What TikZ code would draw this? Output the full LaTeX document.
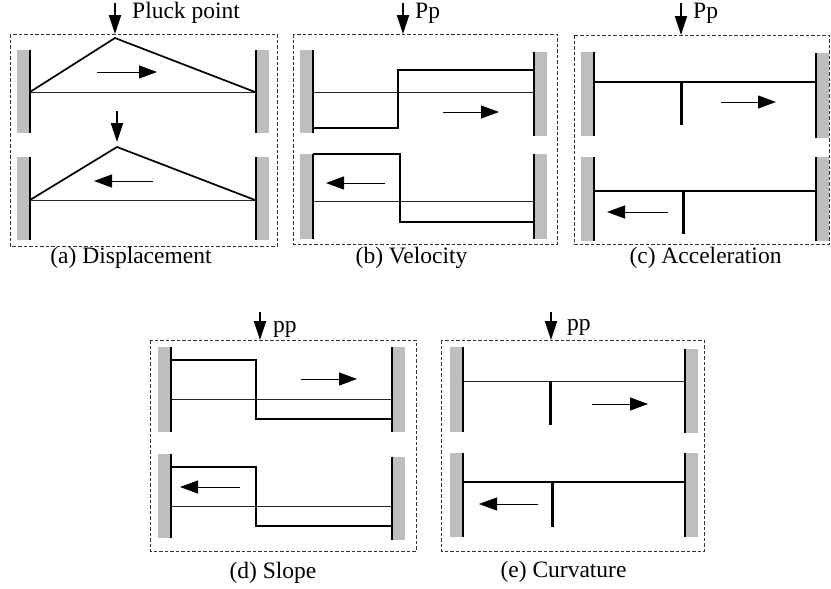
\documentclass[tikz,border=0pt]{standalone}
\usepackage{fontspec}
\setmainfont{Liberation Serif}
\usetikzlibrary{arrows.meta}
\definecolor{wallgray}{RGB}{190,190,190}
\tikzset{
 wallfill/.style={fill=wallgray,draw=none},
 wallline/.style={line width=1.6pt},
 thinstr/.style={line width=0.8pt,draw=black!85},
 thickstr/.style={line width=1.7pt},
 tickline/.style={line width=3pt},
 dirarrow/.style={line width=1pt,-{Triangle[length=18pt,width=13pt]}},
 pluckarrow/.style={line width=1.8pt,-{Triangle[length=19pt,width=12pt]}},
 framebox/.style={draw=black!80,dash pattern=on 3.5pt off 2pt,line width=0.8pt},
 lbl/.style={font=\fontsize{23.5}{28}\selectfont,inner sep=0pt},
}
\newcommand\lwall[3]{\fill[wallfill] (#1-13,#2) rectangle (#1,#3); \draw[wallline] (#1,#2) -- (#1,#3);}
\newcommand\rwall[3]{\fill[wallfill] (#1,#2) rectangle (#1+13,#3); \draw[wallline] (#1,#2) -- (#1,#3);}
\begin{document}
\begin{tikzpicture}[x=1pt,y=-1pt]
\useasboundingbox (0,0) rectangle (831,589);
% ---------- (a) ----------
\draw[framebox] (10,34) rectangle (277,246);
\lwall{30}{50}{133}\rwall{256}{50}{133}
\lwall{30}{157}{240}\rwall{256}{157}{240}
\draw[thinstr] (30,92) -- (256,92);
\draw[thickstr] (30,92) -- (115,38) -- (255,92);
\coordinate (pa0) at (115,3); \coordinate (pa1) at (115,34);
\draw[pluckarrow] (pa0) -- (pa1);
\node[lbl,anchor=base west] (tpa) at (132,18) {Pluck point};
\coordinate (ra0) at (97,72); \coordinate (ra1) at (157,72);
\draw[dirarrow] (ra0) -- (ra1);
\draw[thinstr] (30,200) -- (256,200);
\draw[thickstr] (30,200) -- (117,147) -- (255,200);
\coordinate (pb0) at (117,111); \coordinate (pb1) at (117,142);
\draw[pluckarrow] (pb0) -- (pb1);
\coordinate (la0) at (153,181); \coordinate (la1) at (94,181);
\draw[dirarrow] (la0) -- (la1);
\node[lbl,anchor=base] (capa) at (131,263) {(a) Displacement};
% ---------- (b) ----------
\draw[framebox] (293,34) rectangle (557,244);
\lwall{313}{50}{133}\rwall{534}{52}{136}
\lwall{313}{154}{239}\rwall{534}{154}{239}
\draw[thinstr] (313,92) -- (534,92);
\draw[thickstr] (313,128) -- (398,128) -- (398,70) -- (534,70);
\coordinate (pc0) at (403,3); \coordinate (pc1) at (403,34);
\draw[pluckarrow] (pc0) -- (pc1);
\node[lbl,anchor=base west] (tpb) at (415,19) {Pp};
\coordinate (rb0) at (443,112); \coordinate (rb1) at (499,112);
\draw[dirarrow] (rb0) -- (rb1);
\draw[thinstr] (313,201) -- (534,201);
\draw[thickstr] (313,154) -- (400,154) -- (400,222) -- (534,222);
\coordinate (lb0) at (385,183); \coordinate (lb1) at (326,183);
\draw[dirarrow] (lb0) -- (lb1);
\node[lbl,anchor=base] (capb) at (411.5,263) {(b) Velocity};
% ---------- (c) ----------
\draw[framebox] (574,35) rectangle (829,244);
\lwall{594}{52}{136}\rwall{816}{53}{138}
\lwall{594}{157}{241}\rwall{816}{157}{241}
\draw[thickstr] (594,82) -- (816,82);
\draw[tickline] (681,82) -- (681,125);
\coordinate (pd0) at (681,3); \coordinate (pd1) at (681,35);
\draw[pluckarrow] (pd0) -- (pd1);
\node[lbl,anchor=base west] (tpc) at (693,19) {Pp};
\coordinate (rc0) at (721,102); \coordinate (rc1) at (776,102);
\draw[dirarrow] (rc0) -- (rc1);
\draw[thickstr] (594,191) -- (816,191);
\draw[tickline] (683,191) -- (683,234);
\coordinate (lc0) at (668,212); \coordinate (lc1) at (607,212);
\draw[dirarrow] (lc0) -- (lc1);
\node[lbl,anchor=base] (capc) at (705.5,263) {(c) Acceleration};
% ---------- (d) ----------
\draw[framebox] (150,340) rectangle (416,551);
\lwall{171}{347}{432}\rwall{392}{347}{432}
\lwall{171}{454}{538}\rwall{392}{457}{540}
\draw[thinstr] (171,399) -- (392,399);
\draw[thickstr] (171,360) -- (256,360) -- (256,419) -- (392,419);
\coordinate (pe0) at (260,312); \coordinate (pe1) at (260,340);
\draw[pluckarrow] (pe0) -- (pe1);
\node[lbl,anchor=base west] (tpd) at (273,332) {pp};
\coordinate (rd0) at (301,379); \coordinate (rd1) at (357,379);
\draw[dirarrow] (rd0) -- (rd1);
\draw[thinstr] (171,506) -- (392,506);
\draw[thickstr] (171,467) -- (256,467) -- (256,526) -- (392,526);
\coordinate (ld0) at (240,487); \coordinate (ld1) at (180,487);
\draw[dirarrow] (ld0) -- (ld1);
\node[lbl,anchor=base] (capd) at (273,578) {(d) Slope};
% ---------- (e) ----------
\draw[framebox] (441,340) rectangle (704,551);
\lwall{463}{347}{432}\rwall{685}{349}{433}
\lwall{463}{453}{537}\rwall{685}{453}{537}
\draw[thinstr] (463,381) -- (685,381);
\draw[tickline] (550,381) -- (550,425);
\coordinate (pf0) at (551,312); \coordinate (pf1) at (551,340);
\draw[pluckarrow] (pf0) -- (pf1);
\node[lbl,anchor=base west] (tpe) at (567,330) {pp};
\coordinate (re0) at (592,404); \coordinate (re1) at (648,404);
\draw[dirarrow] (re0) -- (re1);
\draw[thickstr] (463,482) -- (685,482);
\draw[tickline] (552,482) -- (552,527);
\coordinate (le0) at (538,504); \coordinate (le1) at (479,504);
\draw[dirarrow] (le0) -- (le1);
\node[lbl,anchor=base] (cape) at (563.5,577) {(e) Curvature};
\end{tikzpicture}
\end{document}
